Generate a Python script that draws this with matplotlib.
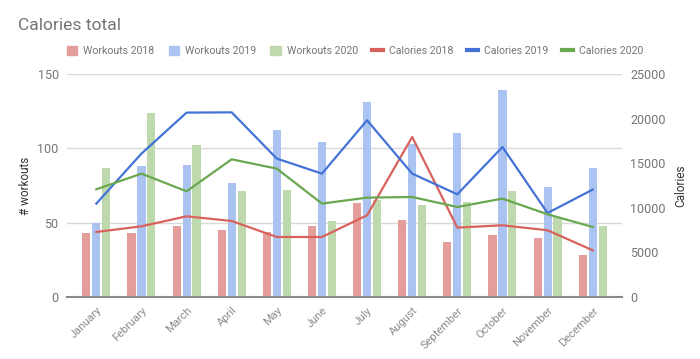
import numpy as np
import matplotlib.pyplot as plt
from matplotlib.patches import Patch
from matplotlib.lines import Line2D

plt.rcParams['font.family'] = ['Roboto', 'DejaVu Sans']

meses = ['January', 'February', 'March', 'April', 'May', 'June', 'July',
         'August', 'September', 'October', 'November', 'December']
workouts_2018 = [43, 43, 48, 45, 44, 48, 63, 52, 37, 42, 40, 28]
workouts_2019 = [50, 88, 89, 77, 112, 104, 131, 103, 110, 139, 74, 87]
workouts_2020 = [87, 124, 102, 71, 72, 51, 65, 62, 64, 71, 54, 48]
calorias_2018 = [7290, 7925, 9045, 8520, 6725, 6725, 9160, 17940, 7780, 8040, 7480, 5235]
calorias_2019 = [10470, 16075, 20670, 20700, 15515, 13830, 19810, 13830, 11510, 16815, 9415, 12040]
calorias_2020 = [12070, 13830, 11850, 15435, 14390, 10470, 11140, 11210, 10090, 11030, 9270, 7850]

gris = '#757575'
c_bar = ['#e39e9b', '#abc3f0', '#bfd9ae']
c_lin = ['#d9625c', '#4472d6', '#6aa84f']

fig = plt.figure(figsize=(7, 3.59), dpi=100)
ax = fig.add_axes([0.0957, 0.1727, 0.7929, 0.6212])
ax2 = ax.twinx()

x = np.arange(len(meses))
w = 0.18
ax.bar(x - 0.22, workouts_2018, w, color=c_bar[0], zorder=2)
ax.bar(x, workouts_2019, w, color=c_bar[1], zorder=2)
ax.bar(x + 0.22, workouts_2020, w, color=c_bar[2], zorder=2)

ax2.plot(x, calorias_2018, color=c_lin[0], lw=1.6)
ax2.plot(x, calorias_2019, color=c_lin[1], lw=1.6)
ax2.plot(x, calorias_2020, color=c_lin[2], lw=1.6)

ax.set_xlim(-0.65, 11.65)
ax.set_ylim(0, 150)
ax2.set_ylim(0, 25000)
ax.set_yticks([0, 50, 100, 150])
ax2.set_yticks([0, 5000, 10000, 15000, 20000, 25000])
ax.yaxis.grid(True, color='#d9d9d9', lw=1, zorder=0)
ax.set_axisbelow(True)

for a in (ax, ax2):
    for s in a.spines.values():
        s.set_visible(False)
    a.tick_params(length=0, labelsize=9, colors=gris)
ax.spines['bottom'].set_visible(True)
ax.spines['bottom'].set_color('#8a8a8a')
ax.spines['bottom'].set_linewidth(1.5)
ax.spines['bottom'].set_zorder(5)

ax.set_xticks(x)
ax.set_xticklabels(meses, rotation=45, ha='right', rotation_mode='anchor', fontsize=8, color='#8c8c8c')
ax.tick_params(axis='x', pad=6)
ax.tick_params(axis='y', pad=6)
ax2.tick_params(axis='y', pad=6)

ax.set_ylabel('# workouts', fontsize=8.5, color='#333333', labelpad=4)
ax2.set_ylabel('Calories', fontsize=8.5, color='#333333', labelpad=6)

fig.text(0.025, 0.93, 'Calories total', fontsize=12.6, color=gris, va='center')

handles = [Patch(color=c_bar[0]), Patch(color=c_bar[1]), Patch(color=c_bar[2]),
           Line2D([], [], color=c_lin[0], lw=3), Line2D([], [], color=c_lin[1], lw=3),
           Line2D([], [], color=c_lin[2], lw=3)]
labels = ['Workouts 2018', 'Workouts 2019', 'Workouts 2020',
          'Calories 2018', 'Calories 2019', 'Calories 2020']
leg = fig.legend(handles, labels, loc='center', bbox_to_anchor=(0.507, 0.858), ncol=6,
                 frameon=False, fontsize=7.6, handlelength=1.0, handleheight=0.9,
                 columnspacing=1.33, handletextpad=0.57)
for t in leg.get_texts():
    t.set_color(gris)

plt.savefig('out.png', dpi=100)
